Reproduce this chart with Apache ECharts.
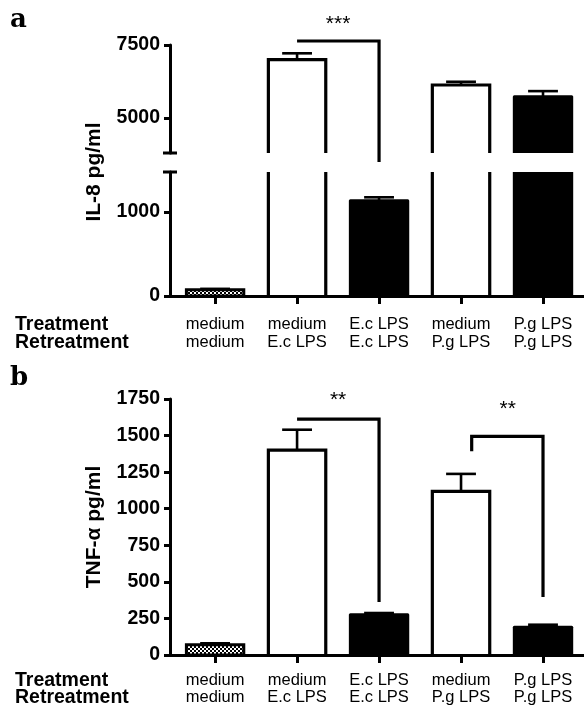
<!DOCTYPE html>
<html><head><meta charset="utf-8">
<script src="https://cdn.jsdelivr.net/npm/echarts@6/dist/echarts.min.js"></script>
<style>html,body{margin:0;padding:0;background:#fff}#c{width:584px;height:711px}</style>
</head><body><div id="c"></div>
<script>
// ---- data ----
const treatment = ['medium', 'medium', 'E.c LPS', 'medium', 'P.g LPS'];
const retreatment = ['medium', 'E.c LPS', 'E.c LPS', 'P.g LPS', 'P.g LPS'];
const barKinds = ['hatched', 'open', 'solid', 'open', 'solid'];
const il8Mean = [75, 7000, 1135, 6130, 5730];
const il8Err = [10, 215, 40, 110, 190];
const tnfMean = [70, 1400, 275, 1118, 189];
const tnfErr = [10, 140, 12, 120, 18];
const il8LowerTicks = [0, 1000];
const il8UpperTicks = [5000, 7500];
const il8LowerMax = 1476;
const il8UpperMin = 3800;
const il8UpperMax = 7500;
const tnfMax = 1750;
const tnfInterval = 250;
const catTicks = [0, 1, 2, 3, 4];
// brackets: [xFrom, xTo, yTop, yLeftEnd, yRightEnd]
const il8Brackets = [[1, 2, 7637, 7637, 3492]];
const il8Stars = [[1.5, 8219]];
const il8StarText = ['***'];
const tnfBrackets = [[1, 2, 1613, 1613, 362], [3.13, 4, 1494, 1392, 396]];
const tnfStars = [[1.5, 1745], [3.57, 1677]];
const tnfStarText = ['**', '**'];

// ---- styles ----
const pat = document.createElement('canvas');
pat.width = 4; pat.height = 4;
const pc = pat.getContext('2d');
pc.fillStyle = '#fff'; pc.fillRect(0, 0, 4, 4);
pc.fillStyle = '#000'; pc.fillRect(0, 0, 2, 2); pc.fillRect(2, 2, 2, 2);

const XMIN = -0.55, XMAX = 4.5;
const LEFT = 170, WIDTH = 414;
const FAM = '"Liberation Sans", Arial, sans-serif';
const BOLD = 'bold 19.5px ' + FAM;

function barItem(params, api) {
  const i = api.value(0), v = api.value(1), e = api.value(2);
  const kind = barKinds[params.dataIndex];
  const top = api.coord([i, v]), base = api.coord([i, 0]), et = api.coord([i, v + e]);
  const w = api.size([1, 0])[0] * 0.7;
  const x0 = top[0] - w / 2, x1 = top[0] + w / 2;
  const capW = w * 0.52;
  const ch = [];
  if (kind === 'open') {
    ch.push({type: 'polyline', shape: {points: [[x0, base[1]], [x0, top[1]], [x1, top[1]], [x1, base[1]]]},
      style: {fill: null, stroke: '#000', lineWidth: 3.2}});
  } else if (kind === 'solid') {
    ch.push({type: 'rect', shape: {x: x0 - 1.5, y: top[1] - 1.5, width: w + 3, height: base[1] - top[1] + 1.5, r: 1.5},
      style: {fill: '#000'}});
  } else {
    ch.push({type: 'rect', shape: {x: x0, y: top[1], width: w, height: base[1] - top[1]},
      style: {fill: {image: pat, repeat: 'repeat'}, stroke: '#000', lineWidth: 3}});
  }
  ch.push({type: 'line', shape: {x1: top[0], y1: top[1], x2: top[0], y2: et[1]}, style: {stroke: '#000', lineWidth: 2.6}});
  ch.push({type: 'line', shape: {x1: top[0] - capW / 2, y1: et[1], x2: top[0] + capW / 2, y2: et[1]}, style: {stroke: '#000', lineWidth: 2.6}});
  return {type: 'group', children: ch};
}
function bracketItem(params, api) {
  const a = api.value(0), b = api.value(1), t = api.value(2), l = api.value(3), r = api.value(4);
  return {type: 'polyline', shape: {points: [api.coord([a, l]), api.coord([a, t]), api.coord([b, t]), api.coord([b, r])]},
    style: {fill: null, stroke: '#000', lineWidth: 3.2, lineJoin: 'miter'}};
}
function starMaker(texts) {
  return function (params, api) {
    const p = api.coord([api.value(0), api.value(1)]);
    return {type: 'text', x: p[0], y: p[1], style: {text: texts[params.dataIndex], fill: '#000',
      font: '21px ' + FAM, align: 'center', verticalAlign: 'middle'}};
  };
}
function capItem(params, api) {
  const p = api.coord([XMIN, api.value(1)]);
  return {type: 'line', shape: {x1: p[0] - 7, y1: p[1], x2: p[0] + 7, y2: p[1]}, style: {stroke: '#000', lineWidth: 3}};
}

const axisLine = {show: true, onZero: false, lineStyle: {color: '#000', width: 3}};
function xAxisShown(gi, margin) {
  return {type: 'value', gridIndex: gi, min: XMIN, max: XMAX, axisLine: axisLine,
    axisTick: {show: true, customValues: catTicks, length: 8, lineStyle: {color: '#000', width: 3}},
    axisLabel: {show: true, customValues: catTicks, margin: margin, color: '#000',
      fontSize: 16.5, fontFamily: FAM, lineHeight: 17.5,
      formatter: v => treatment[Math.round(v)] + '\n' + retreatment[Math.round(v)]},
    splitLine: {show: false}};
}
const yLabel = {color: '#000', fontSize: 19.5, fontWeight: 'bold', fontFamily: FAM, margin: 10, formatter: v => String(v)};
function yAxisBase(gi, extra) {
  return Object.assign({type: 'value', gridIndex: gi, axisLine: axisLine,
    axisTick: {show: true, length: 6, lineStyle: {color: '#000', width: 3}},
    axisLabel: yLabel,
    splitLine: {show: false}}, extra);
}

const chart = echarts.init(document.getElementById('c'), null, {renderer: 'canvas'});
const option = {
  animation: false,
  backgroundColor: '#fff',
  grid: [
    {left: LEFT, width: WIDTH, top: 45, height: 108, outerBoundsMode: 'none'},
    {left: LEFT, width: WIDTH, top: 172, height: 124, outerBoundsMode: 'none'},
    {left: LEFT, width: WIDTH, top: 399, height: 256, outerBoundsMode: 'none'}
  ],
  xAxis: [
    {type: 'value', gridIndex: 0, min: XMIN, max: XMAX, show: false},
    xAxisShown(1, 20),
    xAxisShown(2, 16.5)
  ],
  yAxis: [
    yAxisBase(0, {min: il8UpperMin, max: il8UpperMax,
      axisTick: {show: true, length: 6, customValues: il8UpperTicks, lineStyle: {color: '#000', width: 3}},
      axisLabel: Object.assign({customValues: il8UpperTicks}, yLabel)}),
    yAxisBase(1, {min: 0, max: il8LowerMax,
      axisTick: {show: true, length: 6, customValues: il8LowerTicks, lineStyle: {color: '#000', width: 3}},
      axisLabel: Object.assign({customValues: il8LowerTicks}, yLabel)}),
    yAxisBase(2, {min: 0, max: tnfMax, interval: tnfInterval})
  ],
  series: [
    {type: 'custom', xAxisIndex: 0, yAxisIndex: 0, clip: true, renderItem: barItem, silent: true,
      data: il8Mean.map((v, i) => [i, v, il8Err[i]])},
    {type: 'custom', xAxisIndex: 1, yAxisIndex: 1, clip: true, renderItem: barItem, silent: true,
      data: il8Mean.map((v, i) => [i, v, il8Err[i]])},
    {type: 'custom', xAxisIndex: 2, yAxisIndex: 2, clip: true, renderItem: barItem, silent: true,
      data: tnfMean.map((v, i) => [i, v, tnfErr[i]])},
    {type: 'custom', xAxisIndex: 0, yAxisIndex: 0, clip: false, renderItem: capItem, silent: true, data: [[XMIN, il8UpperMin]]},
    {type: 'custom', xAxisIndex: 1, yAxisIndex: 1, clip: false, renderItem: capItem, silent: true, data: [[XMIN, il8LowerMax]]},
    {type: 'custom', xAxisIndex: 0, yAxisIndex: 0, clip: false, renderItem: bracketItem, silent: true, data: il8Brackets},
    {type: 'custom', xAxisIndex: 2, yAxisIndex: 2, clip: false, renderItem: bracketItem, silent: true, data: tnfBrackets},
    {type: 'custom', xAxisIndex: 0, yAxisIndex: 0, clip: false, renderItem: starMaker(il8StarText), silent: true, data: il8Stars},
    {type: 'custom', xAxisIndex: 2, yAxisIndex: 2, clip: false, renderItem: starMaker(tnfStarText), silent: true, data: tnfStars}
  ],
  graphic: [
    {type: 'text', x: 10, y: 20, style: {text: 'a', font: 'bold 26px "DejaVu Serif", serif', fill: '#000', verticalAlign: 'middle'}},
    {type: 'text', x: 10, y: 378, style: {text: 'b', font: 'bold 26px "DejaVu Serif", serif', fill: '#000', verticalAlign: 'middle'}},
    {type: 'text', x: 94, y: 172, rotation: Math.PI / 2, style: {text: 'IL-8 pg/ml', font: 'bold 21px ' + FAM, fill: '#000', align: 'center', verticalAlign: 'middle'}},
    {type: 'text', x: 94, y: 527, rotation: Math.PI / 2, style: {text: 'TNF-α pg/ml', font: 'bold 21px ' + FAM, fill: '#000', align: 'center', verticalAlign: 'middle'}},
    {type: 'text', x: 15, y: 325, style: {text: 'Treatment', font: BOLD, fill: '#000', verticalAlign: 'middle'}},
    {type: 'text', x: 15, y: 342.5, style: {text: 'Retreatment', font: BOLD, fill: '#000', verticalAlign: 'middle'}},
    {type: 'text', x: 15, y: 680.5, style: {text: 'Treatment', font: BOLD, fill: '#000', verticalAlign: 'middle'}},
    {type: 'text', x: 15, y: 698, style: {text: 'Retreatment', font: BOLD, fill: '#000', verticalAlign: 'middle'}}
  ]
};
chart.setOption(option);
</script></body></html>
